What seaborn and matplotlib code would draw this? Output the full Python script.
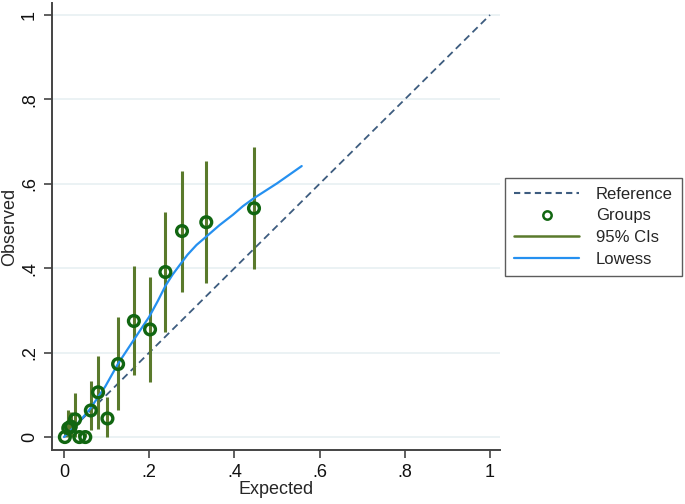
import numpy as np
import pandas as pd
import matplotlib
matplotlib.use("Agg")
import matplotlib.pyplot as plt
from matplotlib.lines import Line2D
import seaborn as sns

# Data
expected = [0.002, 0.010, 0.016, 0.026, 0.036, 0.050, 0.063, 0.080, 0.102,
            0.127, 0.164, 0.202, 0.238, 0.277, 0.334, 0.446]
observed = [0.0, 0.021, 0.025, 0.042, 0.0, 0.0, 0.063, 0.106, 0.044,
            0.173, 0.275, 0.255, 0.391, 0.488, 0.509, 0.542]
ci_low = [0.0, 0.0, 0.0, 0.0, 0.0, 0.0, 0.017, 0.020, 0.0,
          0.064, 0.146, 0.130, 0.248, 0.344, 0.366, 0.398]
ci_high = [0.010, 0.064, 0.060, 0.104, 0.010, 0.010, 0.133, 0.193, 0.095,
           0.284, 0.406, 0.378, 0.533, 0.631, 0.653, 0.686]

lowess_x = [0.0, 0.03, 0.06, 0.097, 0.127, 0.165, 0.200, 0.220, 0.238, 0.255,
            0.272, 0.290, 0.311, 0.333, 0.365, 0.397, 0.420, 0.446, 0.500, 0.558]
lowess_y = [0.0, 0.03, 0.065, 0.120, 0.174, 0.232, 0.285, 0.322, 0.358, 0.385,
            0.408, 0.432, 0.455, 0.474, 0.502, 0.527, 0.547, 0.566, 0.601, 0.642]

ref_x = [0.0, 1.0]
ref_y = [0.0, 1.0]

tick_vals = [0, 0.2, 0.4, 0.6, 0.8, 1.0]
tick_labels = ["0", ".2", ".4", ".6", ".8", "1"]

sns.set_style("white")
plt.rcParams['font.family'] = ['Liberation Sans', 'DejaVu Sans']

ref_color = "#3d5c7f"
group_color = "#116611"
ci_color = "#5a7a2c"
lowess_color = "#2590f0"

fig = plt.figure(figsize=(6.85, 5.04), dpi=100)
ax = fig.add_axes([52/685, 54/504, 448/685, 447/504])

groups = pd.DataFrame({"Expected": expected, "Observed": observed,
                       "lo": ci_low, "hi": ci_high})
lw = pd.DataFrame({"x": lowess_x, "y": lowess_y})

ax.plot(ref_x, ref_y, color=ref_color, linestyle=(0, (4, 2.5)), linewidth=1.3, zorder=2)
ax.vlines(groups["Expected"], groups["lo"], groups["hi"], color=ci_color,
          linewidth=2.2, zorder=3)
sns.lineplot(data=lw, x="x", y="y", ax=ax, color=lowess_color, linewidth=1.6,
             zorder=4, sort=False)
sns.scatterplot(data=groups, x="Expected", y="Observed", ax=ax, marker="o",
                s=60, facecolor="none", edgecolor=group_color, linewidth=2.4,
                zorder=5)

ax.set_xlim(-12/426, 1 + 10/426)
ax.set_ylim(-13/424, 1 + 12/424)
ax.set_xticks(tick_vals)
ax.set_xticklabels(tick_labels)
ax.set_yticks(tick_vals)
ax.set_yticklabels(tick_labels, rotation=90, va="center")
ax.yaxis.grid(True, color="#e8f0f2", linewidth=1.2)
ax.xaxis.grid(False)
ax.set_axisbelow(True)
for s in ["top", "right"]:
    ax.spines[s].set_visible(False)
for s in ["left", "bottom"]:
    ax.spines[s].set_color("#444444")
    ax.spines[s].set_linewidth(1.4)
ax.tick_params(axis="both", direction="out", length=6, width=1.2,
               color="#444444", labelsize=13, labelcolor="#111111",
               bottom=True, left=True, pad=4)
ax.set_xlabel("Expected", fontsize=13, labelpad=0)
ax.set_ylabel("Observed", fontsize=13, labelpad=2)

handles = [
    Line2D([], [], color=ref_color, linestyle=(0, (3, 2)), linewidth=1.5),
    Line2D([], [], color=group_color, marker="o", linestyle="none",
           markerfacecolor="none", markersize=6, markeredgewidth=1.8),
    Line2D([], [], color=ci_color, linewidth=1.8),
    Line2D([], [], color=lowess_color, linewidth=1.6),
]
labels = ["Reference", "Groups", "95% CIs", "Lowess"]
leg = fig.legend(handles, labels, loc="center left",
                 bbox_to_anchor=(505/685, 0.55), frameon=True,
                 fancybox=False, edgecolor="#333333", fontsize=12,
                 handlelength=3.9, handletextpad=1.0, labelspacing=0.4,
                 borderpad=0.55, borderaxespad=0)
leg.get_frame().set_linewidth(1.0)

fig.savefig("out.png", dpi=100)
